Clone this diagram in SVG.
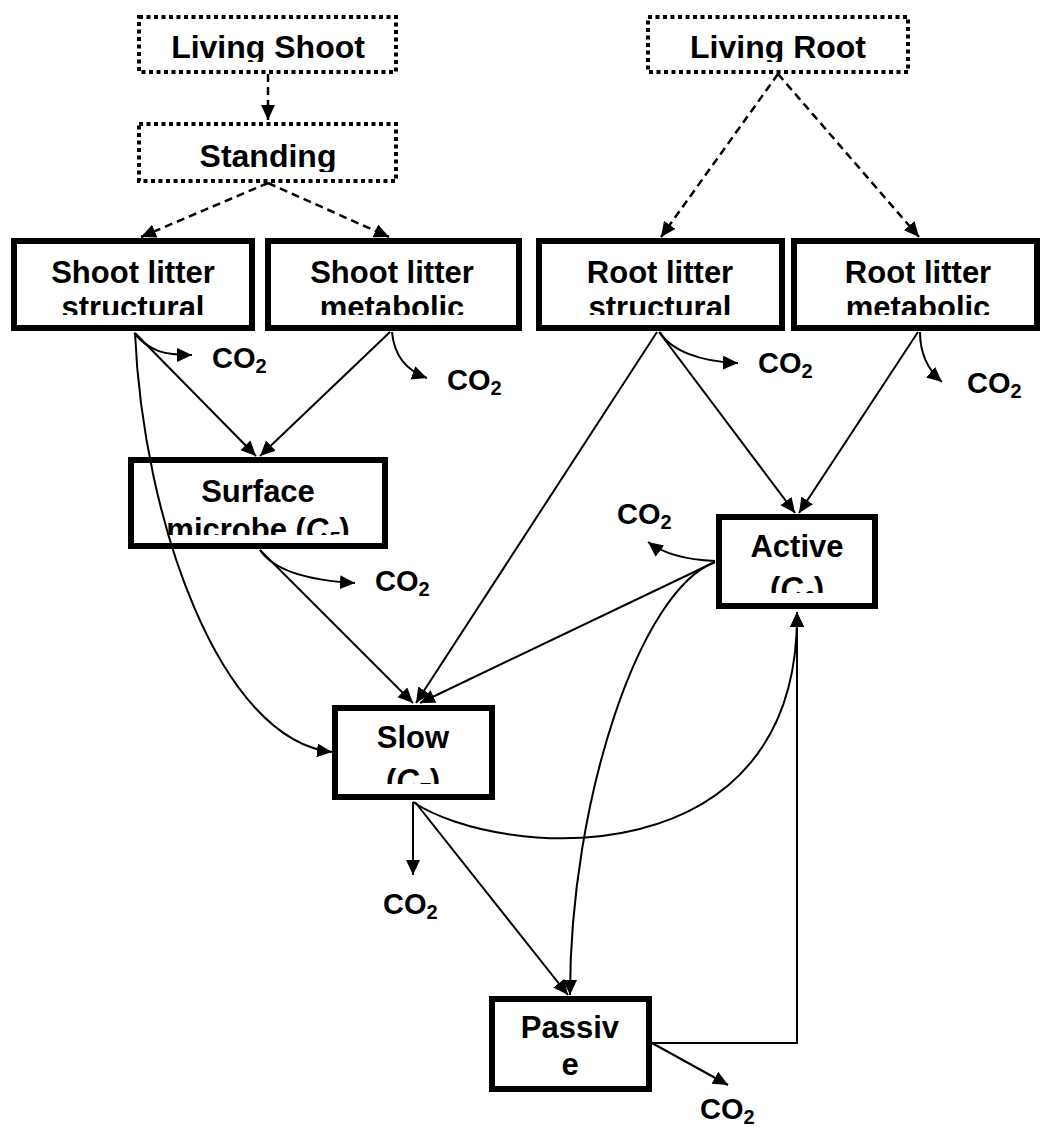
<svg xmlns="http://www.w3.org/2000/svg" width="1042" height="1129" viewBox="0 0 1042 1129">
<style>
.box{fill:#fff;stroke:#000;stroke-width:6}
.dbox{fill:#fff;stroke:#000;stroke-width:4;stroke-dasharray:4 3.5}
.t{font-family:"Liberation Sans",Arial,sans-serif;font-weight:bold;font-size:31px;fill:#000;text-anchor:middle}
.tt{font-size:32px}
.co{font-family:"Liberation Sans",Arial,sans-serif;font-weight:bold;font-size:29px;fill:#000}
.ln{fill:none;stroke:#000;stroke-width:2;marker-end:url(#ah)}
.dl{fill:none;stroke:#000;stroke-width:2.5;stroke-dasharray:8 5;marker-end:url(#ah)}
</style>
<defs>
<marker id="ah" markerUnits="userSpaceOnUse" markerWidth="16" markerHeight="16" refX="15" refY="7" orient="auto">
<path d="M0,0 L15,7 L0,14 z" fill="#000"/>
</marker>
<clipPath id="cLS"><rect x="139" y="17" width="257" height="45"/></clipPath>
<clipPath id="cST"><rect x="139" y="124" width="257" height="48"/></clipPath>
<clipPath id="cLR"><rect x="648" y="17" width="260" height="45"/></clipPath>
<clipPath id="cSLS"><rect x="14" y="241" width="238" height="74"/></clipPath>
<clipPath id="cSLM"><rect x="268" y="241" width="251" height="74"/></clipPath>
<clipPath id="cRLS"><rect x="539" y="241" width="243" height="74"/></clipPath>
<clipPath id="cRLM"><rect x="794" y="241" width="243" height="74"/></clipPath>
<clipPath id="cSM"><rect x="131" y="460" width="254" height="75"/></clipPath>
<clipPath id="cAC"><rect x="719" y="517" width="156" height="76"/></clipPath>
<clipPath id="cSL"><rect x="335" y="708" width="157" height="76"/></clipPath>
</defs>
<rect width="1042" height="1129" fill="#fff"/>

<g id="living-shoot">
<rect class="dbox" x="139" y="17" width="257" height="55"/>
<text class="t tt" x="268" y="58" clip-path="url(#cLS)">Living Shoot</text>
</g>
<g id="standing">
<rect class="dbox" x="139" y="124" width="257" height="57"/>
<text class="t tt" x="268" y="167" clip-path="url(#cST)">Standing</text>
</g>
<g id="living-root">
<rect class="dbox" x="648" y="17" width="260" height="55"/>
<text class="t tt" x="778" y="58" clip-path="url(#cLR)">Living Root</text>
</g>

<g id="shoot-litter-structural">
<rect class="box" x="14" y="241" width="238" height="87"/>
<g clip-path="url(#cSLS)"><text class="t" x="133" y="283">Shoot litter</text><text class="t" x="133" y="318">structural</text></g>
</g>
<g id="shoot-litter-metabolic">
<rect class="box" x="268" y="241" width="251" height="87"/>
<g clip-path="url(#cSLM)"><text class="t" x="392" y="283">Shoot litter</text><text class="t" x="392" y="318">metabolic</text></g>
</g>
<g id="root-litter-structural">
<rect class="box" x="539" y="241" width="243" height="87"/>
<g clip-path="url(#cRLS)"><text class="t" x="660" y="283">Root litter</text><text class="t" x="660" y="318">structural</text></g>
</g>
<g id="root-litter-metabolic">
<rect class="box" x="794" y="241" width="243" height="87"/>
<g clip-path="url(#cRLM)"><text class="t" x="918" y="283">Root litter</text><text class="t" x="918" y="318">metabolic</text></g>
</g>
<g id="surface-microbe">
<rect class="box" x="131" y="460" width="254" height="86"/>
<g clip-path="url(#cSM)"><text class="t" x="258" y="502">Surface</text><text class="t" x="258" y="540">microbe (<tspan font-style="italic">C</tspan><tspan font-style="italic" font-size="20" dy="6">5</tspan><tspan dy="-6">)</tspan></text></g>
</g>
<g id="active">
<rect class="box" x="719" y="517" width="156" height="89"/>
<g clip-path="url(#cAC)"><text class="t" x="797" y="557">Active</text><text class="t" x="797" y="599">(<tspan font-style="italic">C</tspan><tspan font-style="italic" font-size="20" dy="6">6</tspan><tspan dy="-6">)</tspan></text></g>
</g>
<g id="slow">
<rect class="box" x="335" y="708" width="157" height="89"/>
<g clip-path="url(#cSL)"><text class="t" x="413" y="748">Slow</text><text class="t" x="413" y="791">(<tspan font-style="italic">C</tspan><tspan font-style="italic" font-size="20" dy="6">7</tspan><tspan dy="-6">)</tspan></text></g>
</g>
<g id="passive">
<rect class="box" x="492" y="999" width="157" height="90"/>
<text class="t" x="570" y="1038">Passiv</text><text class="t" x="570" y="1075">e</text>
</g>

<g id="connectors">
<path class="dl" d="M268,74 L268,120"/>
<path class="dl" d="M268,183 L141,237"/>
<path class="dl" d="M268,183 L389,237"/>
<path class="dl" d="M778,74 L661,237"/>
<path class="dl" d="M778,74 L919,237"/>
<path class="ln" d="M134,333 C150,352 165,355 192,355"/>
<path class="ln" d="M392,332 C394,355 405,370 427,378"/>
<path class="ln" d="M660,332 C670,350 700,362 738,363"/>
<path class="ln" d="M920,332 C920,355 928,370 942,382"/>
<path class="ln" d="M135,333 L256,456"/>
<path class="ln" d="M390,332 L260,456"/>
<path class="ln" d="M135,333 C143,520 220,740 332,752"/>
<path class="ln" d="M260,550 C272,568 300,580 355,583"/>
<path class="ln" d="M260,550 L413,703"/>
<path class="ln" d="M657,332 L416,703"/>
<path class="ln" d="M659,332 L795,513"/>
<path class="ln" d="M918,332 L799,513"/>
<path class="ln" d="M715,561 C690,560 665,555 648,542"/>
<path class="ln" d="M715,562 L420,703"/>
<path class="ln" d="M715,562 C640,590 570,800 570,995"/>
<path class="ln" d="M413,802 L413,875"/>
<path class="ln" d="M415,802 L568,995"/>
<path class="ln" d="M413,802 C500,860 800,880 797,612"/>
<path class="ln" d="M652,1043 H797 V612"/>
<path class="ln" d="M652,1043 L728,1085"/>
</g>

<g id="co2-labels">
<text class="co" x="212" y="368">CO<tspan font-size="20" dy="5">2</tspan></text>
<text class="co" x="447" y="390">CO<tspan font-size="20" dy="5">2</tspan></text>
<text class="co" x="758" y="373">CO<tspan font-size="20" dy="5">2</tspan></text>
<text class="co" x="967" y="393">CO<tspan font-size="20" dy="5">2</tspan></text>
<text class="co" x="375" y="591">CO<tspan font-size="20" dy="5">2</tspan></text>
<text class="co" x="617" y="524">CO<tspan font-size="20" dy="5">2</tspan></text>
<text class="co" x="383" y="914">CO<tspan font-size="20" dy="5">2</tspan></text>
<text class="co" x="700" y="1119">CO<tspan font-size="20" dy="5">2</tspan></text>
</g>
</svg>
